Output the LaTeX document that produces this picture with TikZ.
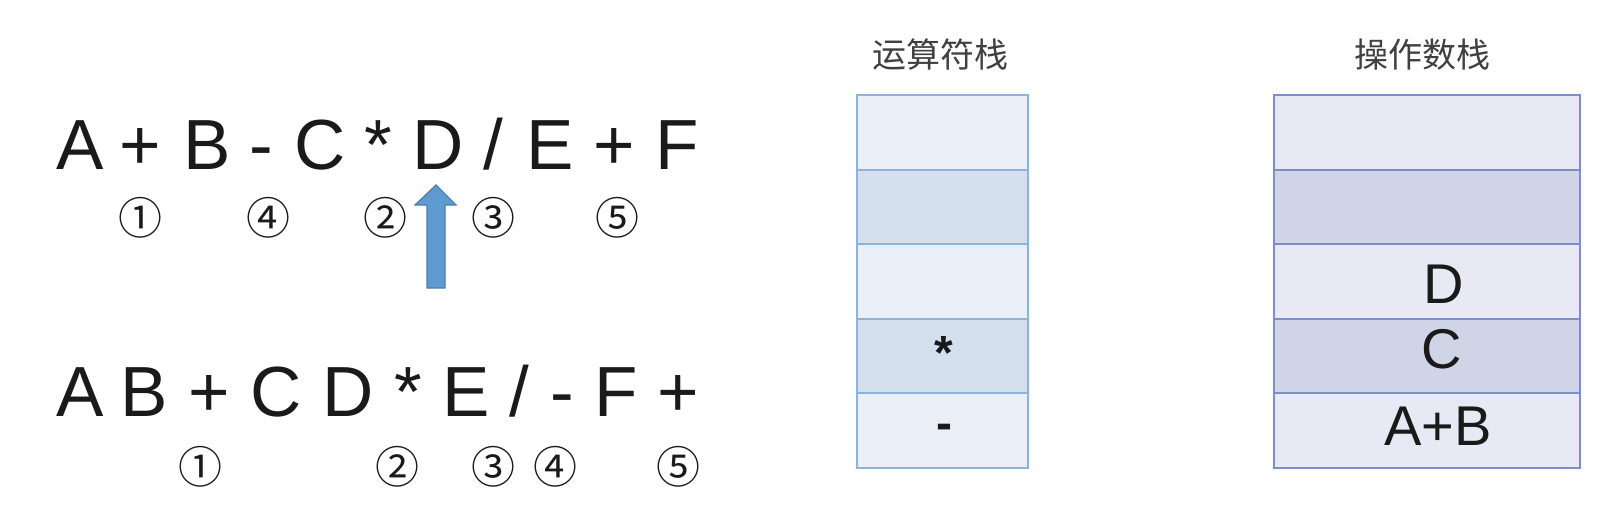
\documentclass[tikz,border=0pt]{standalone}
\usepackage{fontspec}
\setmainfont{Liberation Sans}
\newfontfamily\cjkfont{Noto Sans CJK SC}
\definecolor{opborder}{HTML}{8DB3D8}
\definecolor{oplight}{HTML}{E9EEF7}
\definecolor{opdark}{HTML}{D5E0EE}
\definecolor{ndborder}{HTML}{7E8FC8}
\definecolor{ndlight}{HTML}{E8E9F4}
\definecolor{nddark}{HTML}{CFD4E7}
\definecolor{arrowblue}{HTML}{5F9BD0}
\definecolor{arrowedge}{HTML}{4A7FB0}
\definecolor{txt}{HTML}{1A1A1A}
\begin{document}
\begin{tikzpicture}[x=0.5pt,y=-0.5pt,
  big/.style={font=\fontsize{35.5pt}{40pt}\selectfont, inner sep=0pt, anchor=base, text=txt},
  num/.style={font=\cjkfont\fontsize{22pt}{24pt}\selectfont, inner sep=0pt, anchor=center, text=txt},
  title/.style={font=\cjkfont\fontsize{17pt}{20pt}\selectfont, inner sep=0pt, anchor=center, text=black!75},
  opcell/.style={draw=opborder, line width=1pt, minimum width=85.5pt, minimum height=37.3pt, inner sep=0pt},
  ndcell/.style={draw=ndborder, line width=1pt, minimum width=153pt, minimum height=37.3pt, inner sep=0pt},
  celltxt/.style={font=\fontsize{28pt}{32pt}\selectfont, inner sep=0pt, anchor=base, text=txt},
  optxt/.style={font=\bfseries\fontsize{24pt}{28pt}\selectfont, inner sep=0pt, anchor=center, text=txt},
  blockarrow/.style={fill=arrowblue, draw=arrowedge, line width=0.6pt, line join=miter}
]
\useasboundingbox (0,0) rectangle (1624,504);
\fill[white] (0,0) rectangle (1624,504);

% infix expression
\node[big] (a1) at (80,169) {A};
\node[big] (p1) at (140,169) {+};
\node[big] (b1) at (207,169) {B};
\node[big] (m1) at (261,169) {-};
\node[big] (c1) at (320,169) {C};
\node[big] (s1) at (378,169) {*};
\node[big] (d1) at (438,169) {D};
\node[big] (v1) at (493,169) {/};
\node[big] (e1) at (550,169) {E};
\node[big] (q1) at (614,169) {+};
\node[big] (f1) at (677,169) {F};

\node[num] (n11) at (140,218) {①};
\node[num] (n14) at (268,218) {④};
\node[num] (n12) at (385,218) {②};
\node[num] (n13) at (493,218) {③};
\node[num] (n15) at (617,218) {⑤};

% arrow
\draw[blockarrow] (427,288) -- (427,205) -- (415,205) -- (436,185) -- (456,205) -- (445,205) -- (445,288) -- cycle;

% postfix expression
\node[big] (a2) at (80,416) {A};
\node[big] (b2) at (144,416) {B};
\node[big] (p2) at (209,416) {+};
\node[big] (c2) at (276,416) {C};
\node[big] (d2) at (348,416) {D};
\node[big] (s2) at (408,416) {*};
\node[big] (e2) at (466,416) {E};
\node[big] (v2) at (519,416) {/};
\node[big] (m2) at (562,416) {-};
\node[big] (f2) at (616,416) {F};
\node[big] (q2) at (678,416) {+};

\node[num] (n21) at (200,467) {①};
\node[num] (n22) at (397,467) {②};
\node[num] (n23) at (493,467) {③};
\node[num] (n24) at (555,467) {④};
\node[num] (n25) at (678,467) {⑤};

% operator stack
\node[title] (t1) at (940,55) {运算符栈};
\node[opcell, fill=oplight] (o1) at (942.5,132.3) {};
\node[opcell, fill=opdark]  (o2) at (942.5,206.9) {};
\node[opcell, fill=oplight] (o3) at (942.5,281.5) {};
\node[opcell, fill=opdark]  (o4) at (942.5,356.1) {};
\node[opcell, fill=oplight] (o5) at (942.5,430.7) {};
\node[optxt] (ot4) at (944,353) {*};
\node[optxt] (ot5) at (944,432) {-};

% operand stack
\node[title] (t2) at (1422,55) {操作数栈};
\node[ndcell, fill=ndlight] (d1c) at (1427,132.3) {};
\node[ndcell, fill=nddark]  (d2c) at (1427,206.9) {};
\node[ndcell, fill=ndlight] (d3c) at (1427,281.5) {};
\node[ndcell, fill=nddark]  (d4c) at (1427,356.1) {};
\node[ndcell, fill=ndlight] (d5c) at (1427,430.7) {};
\node[celltxt] (dt3) at (1444,303) {D};
\node[celltxt] (dt4) at (1442,368) {C};
\node[celltxt] (dt5) at (1438,445) {A+B};
\end{tikzpicture}
\end{document}
